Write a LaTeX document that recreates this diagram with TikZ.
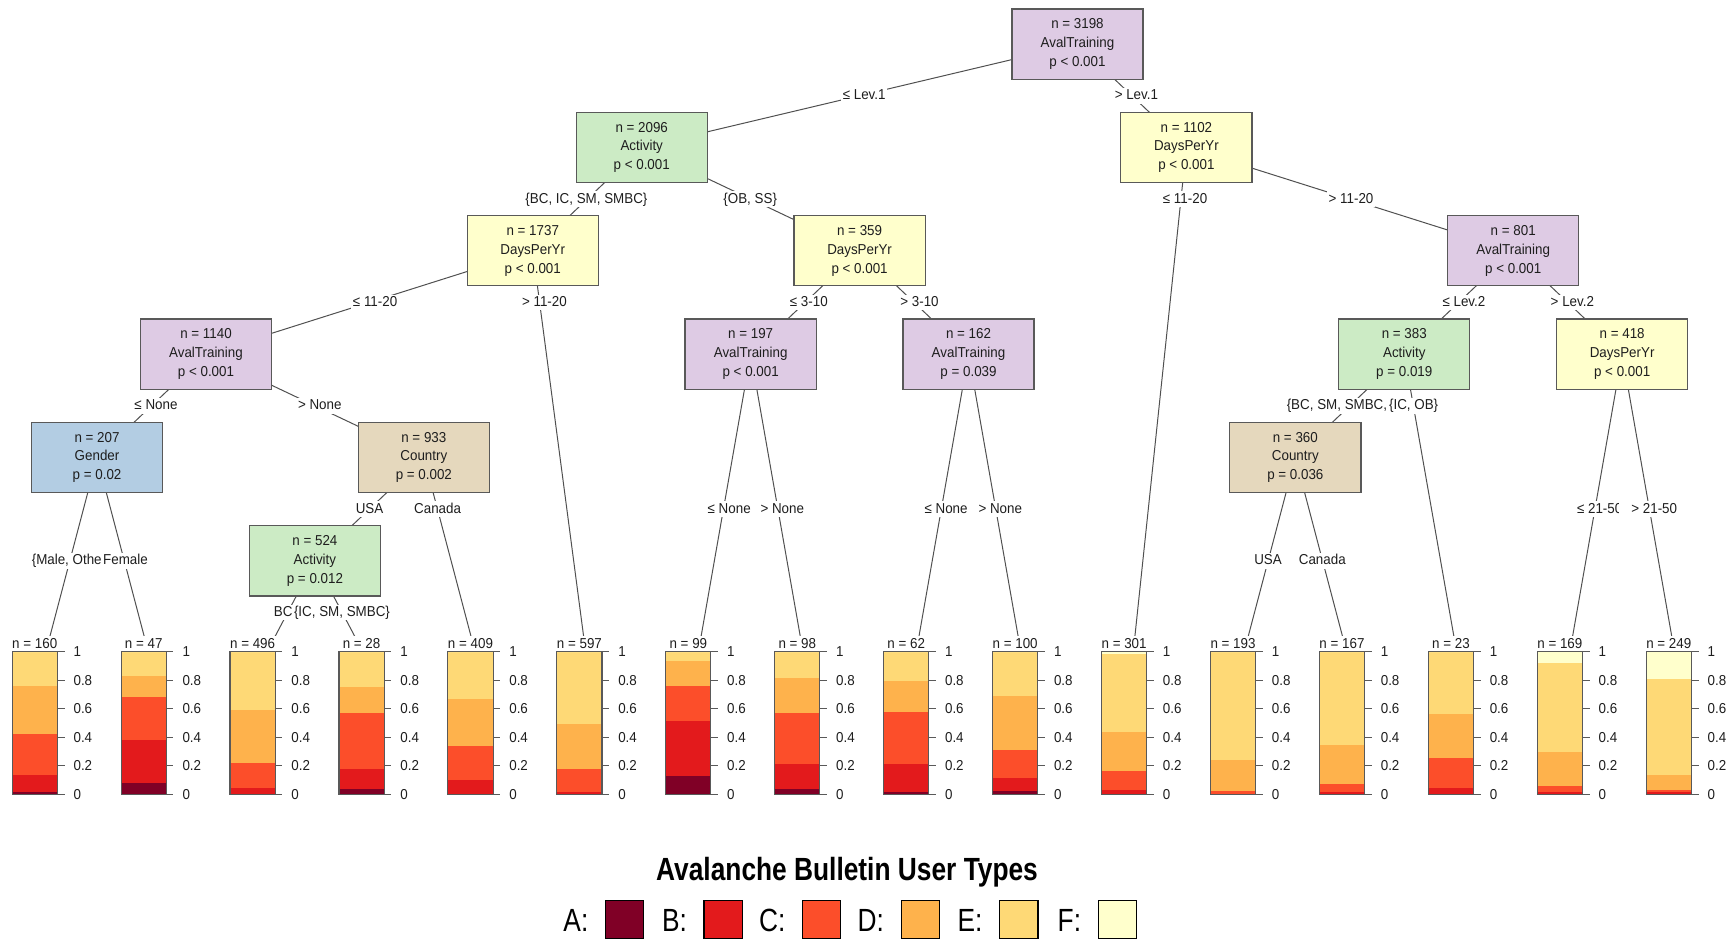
\documentclass[tikz,border=0pt]{standalone}
\usepackage{fontspec}
\setmainfont{Liberation Sans}[FakeStretch=0.93]
\newfontfamily\narrowfont{Liberation Sans}[FakeStretch=0.82]
\usetikzlibrary{backgrounds}
\definecolor{cA}{HTML}{800026}
\definecolor{cB}{HTML}{E31A1C}
\definecolor{cC}{HTML}{FC4E2A}
\definecolor{cD}{HTML}{FEB24C}
\definecolor{cE}{HTML}{FED976}
\definecolor{cF}{HTML}{FFFFCC}
\definecolor{pPurple}{HTML}{DECBE4}
\definecolor{pGreen}{HTML}{CCEBC5}
\definecolor{pYellow}{HTML}{FFFFCC}
\definecolor{pBlue}{HTML}{B3CDE3}
\definecolor{pTan}{HTML}{E5D8BD}
\definecolor{boxline}{HTML}{595959}
\definecolor{edgecol}{HTML}{505050}
\definecolor{txt}{HTML}{1E1E1E}
\tikzset{
  splitnode/.style={draw=boxline, line width=1.1pt, minimum width=118.5pt, minimum height=63.5pt,
    inner sep=0pt, align=center, text=txt, font=\fontsize{13}{17}\selectfont},
  avalnode/.style={splitnode, fill=pPurple},
  actnode/.style={splitnode, fill=pGreen},
  daysnode/.style={splitnode, fill=pYellow},
  gendnode/.style={splitnode, fill=pBlue},
  cntrnode/.style={splitnode, fill=pTan},
  link/.style={draw=edgecol, line width=0.9pt},
  elab/.style={fill=white, inner sep=1.5pt, text=txt, text height=9.3pt, text depth=2pt,
    font=\fontsize{13}{15}\selectfont},
  leafpanel/.style={fill=white, draw=none, minimum width=96pt, minimum height=150pt, inner sep=0pt, anchor=north},
  nlab/.style={inner sep=0pt, text=txt, font=\fontsize{13}{15}\selectfont},
  ticklab/.style={inner sep=0pt, anchor=west, text=txt, font=\fontsize{13}{15}\selectfont},
  barframe/.style={draw=boxline, line width=1pt},
  legbox/.style={draw=black, line width=1.1pt, minimum width=34.5pt, minimum height=34pt, inner sep=0pt},
  leglab/.style={inner sep=0pt, anchor=base east, text=black, font=\narrowfont\fontsize{29}{32}\selectfont},
}
\newcommand\mkleaf[7]{%
  \pgfmathsetmacro\xt{38.5+98.45*(#1-1)}%
  \pgfmathsetmacro\bl{\xt-27.5}%
  \pgfmathsetmacro\br{\xt+13.3}%
  \pgfmathsetmacro\bc{\xt-7.1}%
  \coordinate (v#1) at (\xt,600.2);
  \node[leafpanel] (t#1) at (\xt,574.8) {};
  \node[nlab] (nl#1) at (\bc,582) {n = #2};
  \fill[cA] (\bl,718) rectangle (\br,{718-129*#3});
  \fill[cB] (\bl,{718-129*#3}) rectangle (\br,{718-129*#4});
  \fill[cC] (\bl,{718-129*#4}) rectangle (\br,{718-129*#5});
  \fill[cD] (\bl,{718-129*#5}) rectangle (\br,{718-129*#6});
  \fill[cE] (\bl,{718-129*#6}) rectangle (\br,{718-129*#7});
  \fill[cF] (\bl,{718-129*#7}) rectangle (\br,589);
  \draw[barframe] (\bl,589) rectangle (\br,718);
  \foreach \tk [count=\c] in {0,0.2,0.4,0.6,0.8,1}{
    \draw[barframe] (\br,{718-129*\tk}) -- ++(6.5,0);
    \node[ticklab] (tl#1c\c) at ({\br+14.5},{718-129*\tk}) {\tk};
  }
}
\begin{document}
\begin{tikzpicture}[x=1pt,y=-1pt]
\useasboundingbox (0,0) rectangle (1568,849);

% inner nodes
\node[avalnode] (root)  at (973.75,39.8)  {n = 3198\\AvalTraining\\p < 0.001};
\node[actnode]  (n2096) at (579.95,133.2) {n = 2096\\Activity\\p < 0.001};
\node[daysnode] (n1102) at (1072.2,133.2) {n = 1102\\DaysPerYr\\p < 0.001};
\node[daysnode] (n1737) at (481.5,226.6)  {n = 1737\\DaysPerYr\\p < 0.001};
\node[daysnode] (n359)  at (776.85,226.6) {n = 359\\DaysPerYr\\p < 0.001};
\node[avalnode] (n801)  at (1367.55,226.6){n = 801\\AvalTraining\\p < 0.001};
\node[avalnode] (n1140) at (186.15,320)   {n = 1140\\AvalTraining\\p < 0.001};
\node[avalnode] (n197)  at (678.4,320)    {n = 197\\AvalTraining\\p < 0.001};
\node[avalnode] (n162)  at (875.3,320)    {n = 162\\AvalTraining\\p = 0.039};
\node[actnode]  (n383)  at (1269.1,320)   {n = 383\\Activity\\p = 0.019};
\node[daysnode] (n418)  at (1466.0,320)   {n = 418\\DaysPerYr\\p < 0.001};
\node[gendnode] (n207)  at (87.7,413.4)   {n = 207\\Gender\\p = 0.02};
\node[cntrnode] (n933)  at (383.05,413.4) {n = 933\\Country\\p = 0.002};
\node[cntrnode] (n360)  at (1170.65,413.4){n = 360\\Country\\p = 0.036};
\node[actnode]  (n524)  at (284.6,506.8)  {n = 524\\Activity\\p = 0.012};

% terminal nodes
\mkleaf{1}{160}{.02}{.14}{.424}{.76}{1}
\mkleaf{2}{47}{.082}{.381}{.68}{.828}{1}
\mkleaf{3}{496}{.004}{.047}{.224}{.595}{1}
\mkleaf{4}{28}{.036}{.179}{.571}{.75}{1}
\mkleaf{5}{409}{.003}{.099}{.341}{.671}{1}
\mkleaf{6}{597}{.004}{.02}{.179}{.492}{1}
\mkleaf{7}{99}{.132}{.518}{.762}{.932}{1}
\mkleaf{8}{98}{.035}{.212}{.569}{.814}{1}
\mkleaf{9}{62}{.014}{.212}{.579}{.793}{1}
\mkleaf{10}{100}{.021}{.118}{.313}{.69}{1}
\mkleaf{11}{301}{.002}{.028}{.162}{.435}{.986}
\mkleaf{12}{193}{.002}{.006}{.021}{.24}{1}
\mkleaf{13}{167}{.003}{.014}{.075}{.344}{1}
\mkleaf{14}{23}{0}{.047}{.259}{.565}{1}
\mkleaf{15}{169}{.005}{.015}{.061}{.296}{.92}
\mkleaf{16}{249}{.004}{.014}{.031}{.139}{.807}

\begin{pgfonlayer}{background}
\fill[white] (0,0) rectangle (1568,849);
% connectors
\draw[link] (root.center) -- (n2096.center);
\draw[link] (root.center) -- (n1102.center);
\draw[link] (n2096.center) -- (n1737.center);
\draw[link] (n2096.center) -- (n359.center);
\draw[link] (n1102.center) -- (v11);
\draw[link] (n1102.center) -- (n801.center);
\draw[link] (n1737.center) -- (n1140.center);
\draw[link] (n1737.center) -- (v6);
\draw[link] (n359.center) -- (n197.center);
\draw[link] (n359.center) -- (n162.center);
\draw[link] (n801.center) -- (n383.center);
\draw[link] (n801.center) -- (n418.center);
\draw[link] (n1140.center) -- (n207.center);
\draw[link] (n1140.center) -- (n933.center);
\draw[link] (n197.center) -- (v7);
\draw[link] (n197.center) -- (v8);
\draw[link] (n162.center) -- (v9);
\draw[link] (n162.center) -- (v10);
\draw[link] (n383.center) -- (n360.center);
\draw[link] (n383.center) -- (v14);
\draw[link] (n418.center) -- (v15);
\draw[link] (n418.center) -- (v16);
\draw[link] (n207.center) -- (v1);
\draw[link] (n207.center) -- (v2);
\draw[link] (n933.center) -- (n524.center);
\draw[link] (n933.center) -- (v5);
\draw[link] (n360.center) -- (v12);
\draw[link] (n360.center) -- (v13);
\draw[link] (n524.center) -- (v3);
\draw[link] (n524.center) -- (v4);
% edge labels
\node[elab] (e1)  at (781,86.5)    {≤ Lev.1};
\node[elab] (e2)  at (1027,86.5)   {> Lev.1};
\node[elab] (e3)  at (530,179.9)   {\{BC, IC, SM, SMBC\}};
\node[elab] (e4)  at (678,179.9)   {\{OB, SS\}};
\node[elab] (e5)  at (1071,179.9)  {≤ 11-20};
\node[elab] (e6)  at (1221,179.9)  {> 11-20};
\node[elab] (e7)  at (339,273.3)   {≤ 11-20};
\node[elab] (e8)  at (492,273.3)   {> 11-20};
\node[elab] (e9)  at (731,273.3)   {≤ 3-10};
\node[elab] (e10) at (831,273.3)   {> 3-10};
\node[elab] (e11) at (1323,273.3)  {≤ Lev.2};
\node[elab] (e12) at (1421,273.3)  {> Lev.2};
\node[elab] (e13) at (141,366.7)   {≤ None};
\node[elab] (e14) at (289,366.7)   {> None};
\node[elab, inner xsep=0.2pt, anchor=west] (e16) at (1255,366.7) {\{IC, OB\}};
\node[elab, inner xsep=0.2pt, anchor=east] (e15) at (1254,366.7) {\{BC, SM, SMBC,};
\node[elab] (e17) at (334,460.1)   {USA};
\node[elab] (e18) at (395.5,460.1) {Canada};
\node[elab] (e19) at (659,460.1)   {≤ None};
\node[elab] (e20) at (707,460.1)   {> None};
\node[elab] (e21) at (855,460.1)   {≤ None};
\node[elab] (e22) at (904,460.1)   {> None};
\begin{scope}
  \clip (1400,440) rectangle (1462.5,480);
  \node[elab, anchor=west] (e23) at (1423.5,460.1) {≤ 21-50};
\end{scope}
\node[elab] (e24) at (1495,460.1)  {> 21-50};
\node[elab, inner xsep=0.2pt, anchor=east] (e25) at (92.3,506.8) {\{Male, Othe};
\node[elab, inner xsep=0.2pt, anchor=west] (e26) at (92.9,506.8) {Female};
\node[elab] (e27) at (1146,506.8)  {USA};
\node[elab] (e28) at (1195,506.8)  {Canada};
\node[elab, inner xsep=0.2pt, anchor=west] (e30) at (265.3,553.5) {\{IC, SM, SMBC\}};
\node[elab, inner xsep=0.2pt, anchor=east] (e29) at (264.8,553.5) {BC};
\end{pgfonlayer}

% legend
\node[inner sep=0pt, anchor=base, text=black, font=\narrowfont\bfseries\fontsize{29}{32}\selectfont]
  (legtitle) at (765.5,795.3) {Avalanche Bulletin User Types};
\foreach \L/\col [count=\k from 0] in {A/cA,B/cB,C/cC,D/cD,E/cE,F/cF}{
  \pgfmathsetmacro\lx{546.7+89.06*\k}
  \node[legbox, fill=\col, anchor=west] (lb\L) at (\lx,831) {};
  \node[leglab] (ll\L) at ({\lx-14.8},842) {\L:};
}
\end{tikzpicture}
\end{document}
